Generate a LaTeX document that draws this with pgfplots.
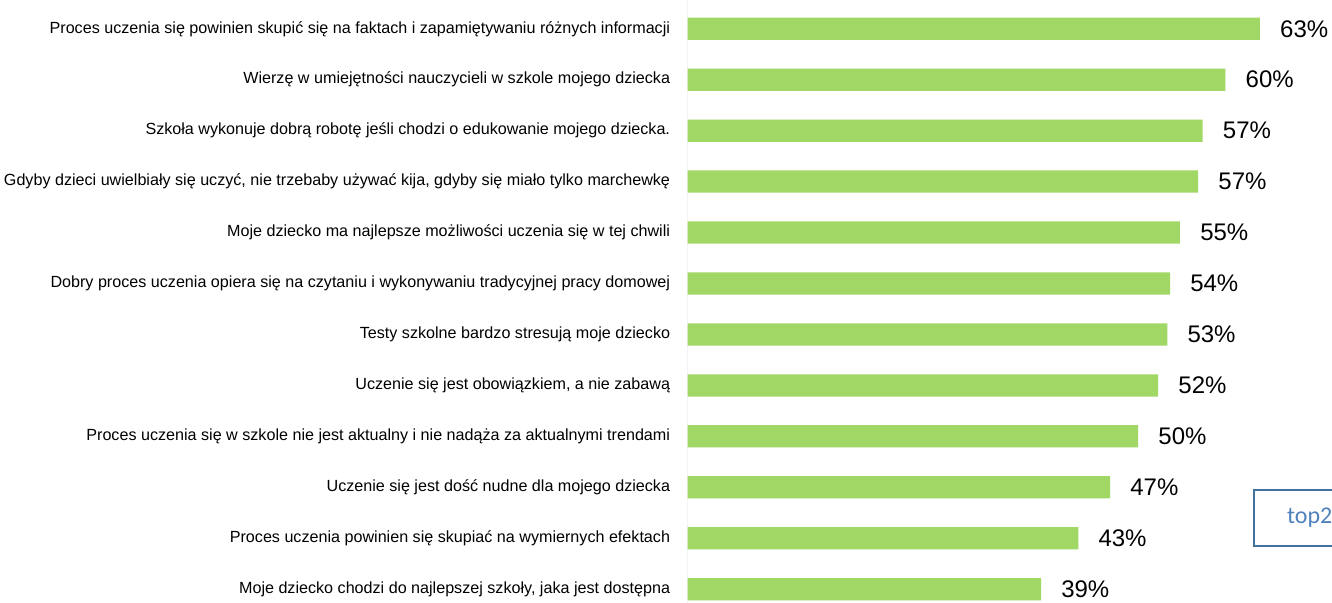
\documentclass[border=0pt]{standalone}
\usepackage{fontspec}
\setmainfont{Liberation Sans}
\newfontfamily\calibri{Carlito}
\usepackage{pgfplots}
\pgfplotsset{compat=1.18}
\definecolor{barGreen}{RGB}{160,215,101}
\definecolor{boxBlue}{RGB}{65,113,156}
\definecolor{txtBlue}{RGB}{79,129,189}

\begin{document}
\begin{tikzpicture}
\begin{axis}[
  xbar, bar width=16.7pt,
  scale only axis, width=483.2pt, height=452.25pt,
  xmin=0, xmax=70.92, ymin=-0.565, ymax=11.27, y dir=reverse,
  axis line style={draw=none}, xtick=\empty,
  ytick={0,...,11}, major tick length=0pt,
  yticklabels={
    {Proces uczenia się powinien skupić się na faktach i zapamiętywaniu różnych informacji},
    {Wierzę w umiejętności nauczycieli w szkole mojego dziecka},
    {Szkoła wykonuje dobrą robotę jeśli chodzi o edukowanie mojego dziecka.},
    {Gdyby dzieci uwielbiały się uczyć, nie trzebaby używać kija, gdyby się miało tylko marchewkę},
    {Moje dziecko ma najlepsze możliwości uczenia się w tej chwili},
    {Dobry proces uczenia opiera się na czytaniu i wykonywaniu tradycyjnej pracy domowej},
    {Testy szkolne bardzo stresują moje dziecko},
    {Uczenie się jest obowiązkiem, a nie zabawą},
    {Proces uczenia się w szkole nie jest aktualny i nie nadąża za aktualnymi trendami},
    {Uczenie się jest dość nudne dla mojego dziecka},
    {Proces uczenia powinien się skupiać na wymiernych efektach},
    {Moje dziecko chodzi do najlepszej szkoły, jaka jest dostępna}},
  yticklabel style={font=\fontsize{12.1}{13}\selectfont, inner sep=0pt, xshift=-13pt},
  nodes near coords, point meta=explicit symbolic,
  every node near coord/.append style={font=\fontsize{18}{20}\selectfont,
    inner sep=0pt, anchor=west, xshift=15pt, text=black},
]
\draw[gray!25, line width=1pt] (rel axis cs:0,0) -- (rel axis cs:0,1);
\addplot[fill=barGreen, draw=none] coordinates {
  (63.0,0) [63\%]
  (59.2,1) [60\%]
  (56.7,2) [57\%]
  (56.2,3) [57\%]
  (54.2,4) [55\%]
  (53.1,5) [54\%]
  (52.8,6) [53\%]
  (51.8,7) [52\%]
  (49.6,8) [50\%]
  (46.5,9) [47\%]
  (43.0,10) [43\%]
  (38.9,11) [39\%]
};
\draw[boxBlue, line width=1.5pt] (axis cs:70.92,9.052) -- (axis cs:62.34,9.052)
  -- (axis cs:62.34,10.145) -- (axis cs:70.92,10.145);
\node[anchor=west, text=txtBlue, font=\calibri\fontsize{18}{20}\selectfont, inner sep=0pt]
  at (axis cs:65.97,9.599) {top2};
\end{axis}
\path (current axis.south west) ++(-515.85pt,0);
\end{tikzpicture}
\end{document}
